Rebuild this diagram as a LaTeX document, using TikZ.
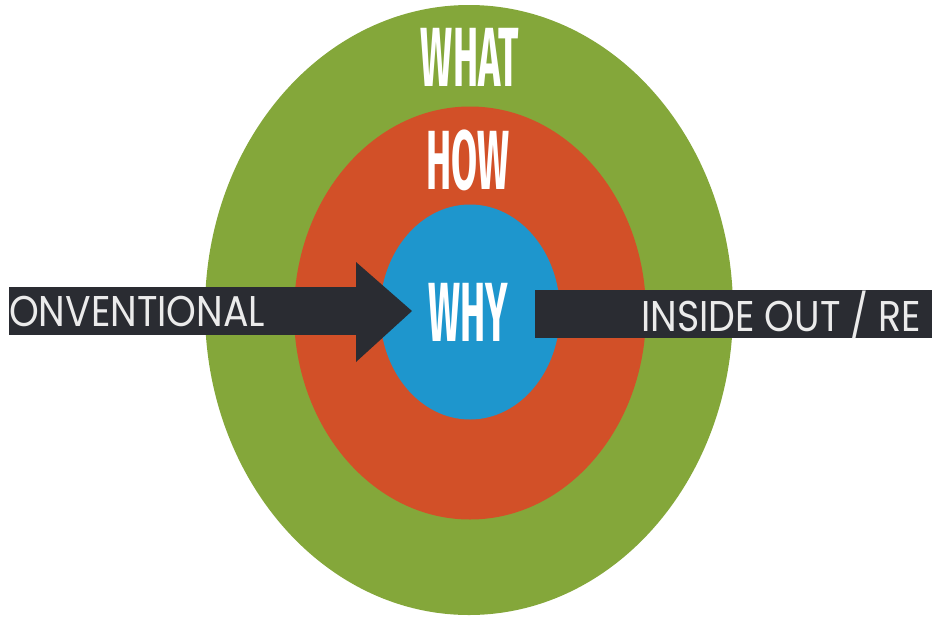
\documentclass[tikz,border=0pt]{standalone}
\usepackage{fontspec}
\usepackage{graphicx}
\usepackage{xcolor}
\usetikzlibrary{shapes.geometric}

\newfontfamily\ringfont{Fira Sans}[UprightFont=* Bold]
\newfontfamily\barfont{Poppins}

\definecolor{whatgreen}{RGB}{132,167,58}
\definecolor{howred}{RGB}{210,80,40}
\definecolor{whyblue}{RGB}{30,150,205}
\definecolor{bardark}{RGB}{42,44,50}

\newcommand{\tallword}[1]{\scalebox{0.45}[1]{#1}}
\newcommand{\barlabel}[1]{\scalebox{0.88}[1]{#1}}

\begin{document}
\begin{tikzpicture}[
  x=1pt, y=-1pt,
  disc/.style={ellipse, draw=none, inner sep=0pt, outer sep=0pt},
  ringword/.style={text=white, font=\ringfont\fontsize{84}{84}\selectfont, inner sep=0pt},
  barword/.style={text=white!92!black, font=\barfont\fontsize{43}{43}\selectfont, inner sep=0pt},
  bar/.style={fill=bardark, draw=none, inner sep=0pt, outer sep=0pt}
]
\useasboundingbox (0,0) rectangle (932,619);

% the three rings
\node[disc, fill=whatgreen, minimum width=528pt, minimum height=610pt] (outer) at (469,310) {};
\node[disc, fill=howred,    minimum width=352pt, minimum height=413pt] (middle) at (470,313) {};
\node[disc, fill=whyblue,   minimum width=180pt, minimum height=215pt] (inner) at (470,312) {};

\node[ringword] (what) at (470,57)  {\tallword{WHAT}};
\node[ringword] (how)  at (468,160) {\tallword{HOW}};
\node[ringword] (why)  at (468,312) {\tallword{WHY}};

% left arrow pointing in
\node[bar, minimum width=347pt, minimum height=48pt, anchor=west] (convbar) at (9,311) {};
\coordinate (tip) at (412,311);
\fill[bardark] (convbar.east |- 0,262) -- (tip) -- (convbar.east |- 0,362) -- cycle;
\node[barword, anchor=west] (conv) at (9,311) {\barlabel{ONVENTIONAL}};

% right bar going out
\node[bar, minimum width=397pt, minimum height=48pt, anchor=west] (insidebar) at (535,314) {};
\node[barword, anchor=west] (inside) at (641,315) {\barlabel{INSIDE OUT / RE}};
\end{tikzpicture}
\end{document}
